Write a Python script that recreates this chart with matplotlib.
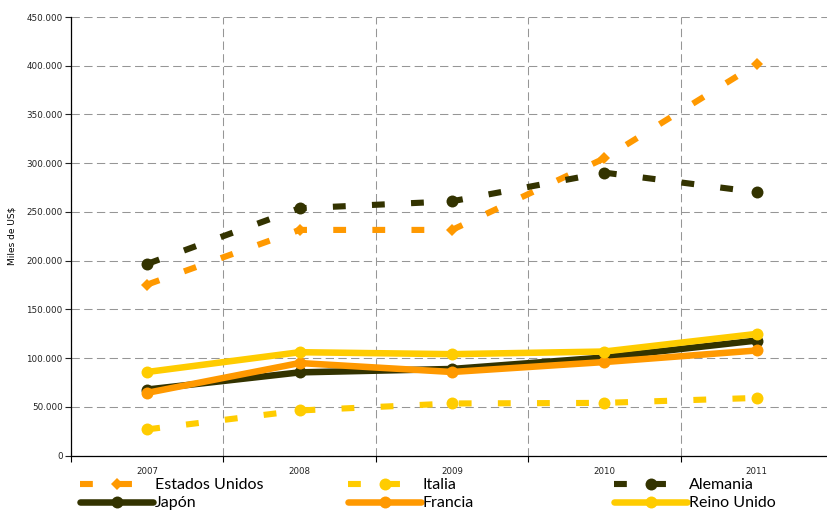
import matplotlib
matplotlib.use("Agg")
import matplotlib.pyplot as plt
import numpy as np
from matplotlib.ticker import FuncFormatter

years = ["2007", "2008", "2009", "2010", "2011"]
estados_unidos = [175400, 231500, 231500, 305000, 401700]
italia = [26800, 46200, 53400, 54000, 59100]
alemania = [196600, 253700, 260900, 290300, 270200]
japon = [67700, 85300, 88800, 100600, 118000]
francia = [64300, 94900, 85700, 95900, 107800]
reino_unido = [85700, 106000, 104000, 106700, 124800]

ORANGE = "#FF9900"
DARK = "#333300"
YELLOW = "#FFCC00"

W, H = 827, 512
fig = plt.figure(figsize=(W / 100, H / 100), dpi=100)
ax = fig.add_axes([71 / W, (H - 455.5) / H, 762 / W, 438.5 / H])

x = np.arange(len(years))
dash = (0, (2.1, 4.3))

series = [
    ("Estados Unidos", estados_unidos, ORANGE, dash, "D", 6.2, 4.4),
    ("Italia", italia, YELLOW, dash, "o", 8.6, 4.4),
    ("Alemania", alemania, DARK, dash, "o", 8.6, 4.4),
    ("Japón", japon, DARK, "-", "o", 8.6, 4.7),
    ("Francia", francia, ORANGE, "-", "o", 8.6, 4.7),
    ("Reino Unido", reino_unido, YELLOW, "-", "o", 8.6, 4.7),
]

handles = {}
for i, (name, vals, col, ls, mk, ms, lw) in enumerate(series):
    (ln,) = ax.plot(x, vals, color=col, linestyle=ls, lw=lw, marker=mk,
                    markersize=ms, markeredgewidth=0, zorder=3 + i,
                    solid_capstyle="round", solid_joinstyle="round",
                    clip_on=False)
    handles[name] = ln

ax.set_xlim(-0.5, 4.5)
ax.set_ylim(0, 450000)
ax.set_yticks(np.arange(0, 450001, 50000))
ax.yaxis.set_major_formatter(FuncFormatter(lambda v, p: f"{int(v):,}".replace(",", ".")))
ax.set_xticks(x)
ax.set_xticklabels(years)
ax.set_xticks(np.arange(-0.5, 5, 1), minor=True)

ax.tick_params(axis="x", which="major", length=0, pad=8.5, labelsize=6.2, colors="#222222")
ax.tick_params(axis="x", which="minor", length=4, width=0.8, direction="out")
ax.tick_params(axis="y", which="major", length=4, width=0.8, direction="out",
               labelsize=6.3, colors="#222222", pad=2)

gridkw = dict(color="#969696", lw=0.75, linestyle=(0, (8, 4.2)))
ax.grid(True, axis="y", which="major", **gridkw)
ax.grid(True, axis="x", which="minor", **gridkw)
ax.grid(False, axis="x", which="major")
ax.set_axisbelow(True)

for s in ["top", "right"]:
    ax.spines[s].set_visible(False)
for s in ["left", "bottom"]:
    ax.spines[s].set_linewidth(0.9)
    ax.spines[s].set_color("black")

ax.set_ylabel("Miles de US$", fontsize=6.5)
ax.yaxis.set_label_coords(-0.072, 0.5)

FS = 11.5
pad_px = 0.3 * FS * 100 / 72
cols = [
    (80, ["Estados Unidos", "Japón"]),
    (348, ["Italia", "Francia"]),
    (614, ["Alemania", "Reino Unido"]),
]
for xpix, names in cols:
    leg = fig.legend([handles[n] for n in names], names,
                     loc="upper left",
                     bbox_to_anchor=((xpix - pad_px) / W, (H - 473.5) / H),
                     bbox_transform=fig.transFigure, ncol=1,
                     frameon=True, facecolor="white", edgecolor="none", framealpha=1,
                     fancybox=False, borderpad=0.3, borderaxespad=0.0,
                     handlelength=4.6, handletextpad=0.08, labelspacing=0.22,
                     prop={"family": ["Lato", "DejaVu Sans"], "size": FS})

fig.savefig("out.png", dpi=100)
